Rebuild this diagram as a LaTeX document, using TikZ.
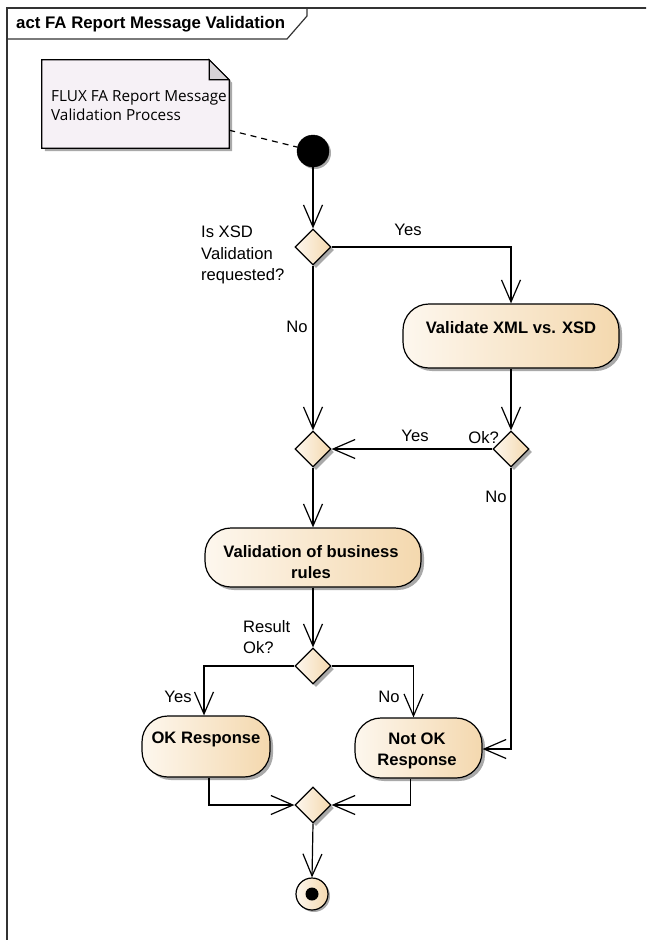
\documentclass[tikz,border=0pt]{standalone}
\usepackage{fontspec}
\setmainfont{Liberation Sans}
\newfontfamily\notefont{Open Sans}
\usetikzlibrary{arrows.meta,shapes.geometric,shadows}
\definecolor{actL}{HTML}{FDF7EE}
\definecolor{actR}{HTML}{F4D8AE}
\definecolor{noteFill}{HTML}{F6F1F6}
\definecolor{foldFill}{HTML}{D6D2D6}
\definecolor{frameLine}{HTML}{333333}
\definecolor{shadowGray}{HTML}{A9A9A9}

\begin{document}
\begin{tikzpicture}[x=1pt,y=-1pt,
  font=\fontsize{16.6}{21.7}\selectfont,
  eashadow/.style={drop shadow={shadow xshift=3pt,shadow yshift=-3pt,fill=shadowGray,opacity=1}},
  flow/.style={line width=1.2pt,-{Straight Barb[length=22pt,width=19pt]}},
  plain/.style={line width=1.2pt},
  action/.style={rectangle,rounded corners=26pt,draw,line width=1.2pt,
    left color=actL,right color=actR,eashadow,inner sep=0pt},
  decision/.style={diamond,aspect=1,minimum width=36pt,minimum height=36pt,
    inner sep=0pt,draw,line width=1.2pt,left color=actL,right color=actR,eashadow},
  atext/.style={font=\fontsize{16.6}{20.6}\selectfont\bfseries,align=center,inner sep=0pt},
  guard/.style={inner sep=0pt,align=left},
]
\clip (0,0) rectangle (646,940);
\useasboundingbox (0,0) rectangle (646,940);

% diagram frame and its name tab
\draw[frameLine,line width=1.3pt] (7,960) -- (7,8) -- (660,8);
\draw[frameLine,line width=1.2pt] (7,39) -- (287,39) -- (307,16) -- (307,8);
\node[anchor=west,inner sep=0pt,font=\fontsize{16.8}{20}\selectfont\bfseries] (title) at (16,24) {act FA Report Message Validation};

% note with folded corner
\node[minimum width=187pt,minimum height=88pt,inner sep=0pt] (note) at (135.5,104) {};
\fill[shadowGray] ([shift={(3pt,-3pt)}]note.north west) -- ([shift={(-17pt,-3pt)}]note.north east)
  -- ([shift={(3pt,-23pt)}]note.north east) -- ([shift={(3pt,-3pt)}]note.south east)
  -- ([shift={(3pt,-3pt)}]note.south west) -- cycle;
\draw[line width=1.2pt,fill=noteFill] (note.north west) -- ([xshift=-20pt]note.north east)
  -- ([yshift=-20pt]note.north east) -- (note.south east) -- (note.south west) -- cycle;
\draw[line width=1.2pt,fill=foldFill] ([xshift=-20pt]note.north east) -- ([shift={(-20pt,-20pt)}]note.north east)
  -- ([yshift=-20pt]note.north east) -- cycle;
\node[anchor=west,align=left,inner sep=0pt,font=\notefont\fontsize{15.3}{19}\selectfont] (notetext) at (51,106)
  {FLUX FA Report Message\\Validation Process};

% initial and final nodes
\node[circle,fill=black,draw,minimum size=32pt,inner sep=0pt,
  drop shadow={shadow xshift=2pt,shadow yshift=-2pt,fill=shadowGray,opacity=1}] (init) at (313,151) {};
\node[circle,draw,line width=1.2pt,minimum size=32pt,inner sep=0pt,left color=actL,right color=actR,
  drop shadow={shadow xshift=2pt,shadow yshift=-2pt,fill=shadowGray,opacity=1}] (fin) at (312,894) {};
\node[circle,fill=black,minimum size=13pt,inner sep=0pt] (findot) at (fin) {};

% decisions and merges
\node[decision] (d1) at (313,247) {};
\node[decision] (d2) at (313,449) {};
\node[decision] (d3) at (511,449) {};
\node[decision] (d4) at (313,666) {};
\node[decision] (d5) at (313,805) {};

% actions
\node[action,minimum width=216pt,minimum height=64pt] (xsd) at (511,336) {};
\node[atext,anchor=center] (xsdt) at (511,328) {Validate XML vs. XSD};
\node[action,minimum width=216pt,minimum height=59pt] (br) at (313,557.5) {};
\node[atext,anchor=center] (brt) at (311,562) {Validation of business\\rules};
\node[action,minimum width=128pt,minimum height=61pt] (ok) at (206,746.5) {};
\node[atext,anchor=center] (okt) at (206,739) {OK Response};
\node[action,minimum width=127pt,minimum height=60pt] (nok) at (418.5,748) {};
\node[atext,anchor=center] (nokt) at (417,751) {Not OK\\Response};

% control flows
\draw[plain,dashed,dash pattern=on 6pt off 5pt] ([yshift=18pt]note.south east) -- (init);
\draw[flow] (init) -- (d1.north);
\draw[flow] (d1.east) -| (xsd.north);
\draw[flow] (d1.south) -- (d2.north);
\draw[flow] (xsd.south) -- (d3.north);
\draw[flow] (d3.west) -- (d2.east);
\draw[flow] (d2.south) -- (br.north);
\draw[flow] (br.south) -- (d4.north);
\draw[flow] (d4.west) -| ([xshift=-2pt]ok.north);
\draw[flow] (d4.east) -| ([xshift=-5pt]nok.north);
\draw[flow] (d3.south) |- ([yshift=-1pt]nok.east);
\draw[flow] ([xshift=3pt]ok.south) |- (d5.west);
\draw[flow] ([xshift=-8pt]nok.south) |- (d5.east);
\draw[flow] (d5.south) -- (fin.north);

% guards and decision texts
\node[guard,anchor=west] (q1) at (201,255) {Is XSD\\Validation\\requested?};
\node[guard] (y1) at (408,230) {Yes};
\node[guard] (n1) at (297,327) {No};
\node[guard] (y2) at (415,436) {Yes};
\node[guard,anchor=east] (q2) at (499,438) {Ok?};
\node[guard] (n2) at (496,497) {No};
\node[guard,anchor=west,font=\fontsize{16.6}{20.6}\selectfont] (q3) at (243,637) {Result\\Ok?};
\node[guard] (y3) at (178,697) {Yes};
\node[guard] (n3) at (389,697) {No};
\end{tikzpicture}
\end{document}
